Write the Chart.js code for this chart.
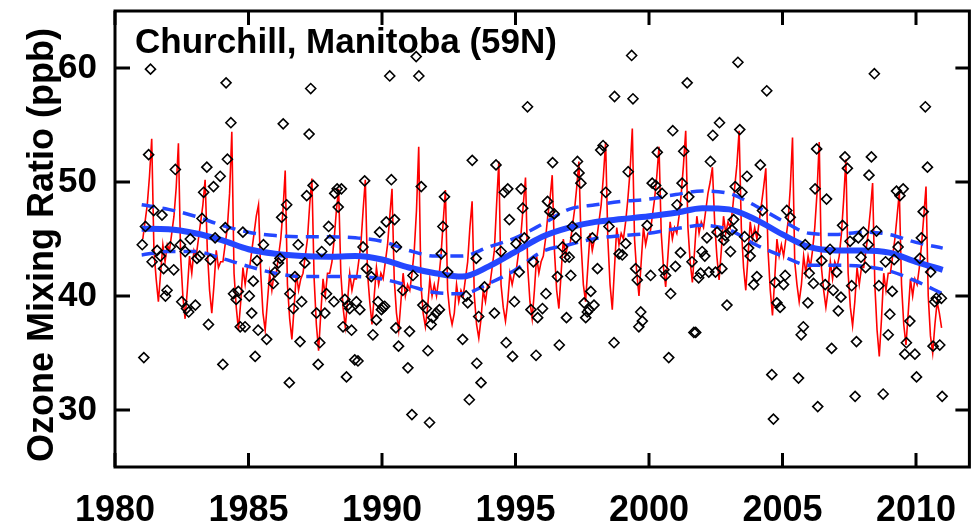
<!DOCTYPE html>
<html>
<head>
<meta charset="utf-8">
<script src="https://cdn.jsdelivr.net/npm/chart.js@4.4.1/dist/chart.umd.min.js"></script>
<style>
  html, body { margin: 0; padding: 0; background: #ffffff; }
  #wrap { width: 976px; height: 528px; }
</style>
</head>
<body>
<div id="wrap"><canvas id="c" width="976" height="528"></canvas></div>
<script>
// Surface ozone at Churchill, Manitoba: monthly means, seasonal model fit,
// long-term trend and its confidence band.
const stationTitle = 'Churchill, Manitoba (59N)';
const yAxisTitle = 'Ozone Mixing Ratio (ppb)';
const xTickValues = [1980, 1985, 1990, 1995, 2000, 2005, 2010];
const yTickValues = [30, 40, 50, 60];

// Monthly mean observations (decimal year, ppb)
const obsTime = [
  1981.33, 1981.08, 1981.02, 1981.14, 1981.26, 1981.45, 1981.76, 1981.39, 1981.58, 1981.70,
  1981.82, 1981.95, 1981.89, 1982.07, 1982.20, 1982.26, 1982.45, 1982.63, 1982.50, 1982.68,
  1982.76, 1983.01, 1982.82, 1983.07, 1983.17, 1983.26, 1983.32, 1983.44, 1983.69, 1983.94,
  1983.57, 1983.50, 1983.75, 1984.13, 1984.16, 1984.34, 1984.21, 1984.04, 1984.44, 1984.54,
  1984.62, 1984.69, 1984.87, 1984.79, 1985.03, 1985.12, 1985.18, 1985.25, 1985.36,
  1985.56, 1985.68, 1985.32, 1985.93, 1985.99, 1986.12, 1986.18, 1986.24, 1986.43, 1986.30,
  1986.55, 1986.68, 1986.74, 1986.93, 1986.86, 1986.99, 1986.53, 1987.11, 1987.18, 1987.27,
  1987.33, 1987.42, 1987.55, 1987.61, 1987.67, 1987.74, 1987.92, 1987.86, 1988.05, 1988.00,
  1988.23, 1988.32, 1988.36, 1988.20, 1988.48, 1988.54, 1988.61, 1988.73, 1988.67, 1988.79,
  1988.86, 1988.98, 1989.10, 1989.04, 1989.17, 1989.29, 1989.35, 1989.42, 1989.60, 1989.66,
  1989.79, 1989.85, 1989.91, 1989.98, 1990.04, 1990.10, 1990.16, 1990.29, 1990.35, 1990.47,
  1990.54, 1990.52, 1990.62,
  1990.78, 1991.16, 1991.28, 1991.38, 1991.47, 1990.97, 1991.03, 1991.12, 1991.78, 1991.53,
  1991.66, 1991.72, 1991.84, 1991.90, 1992.03, 1992.15, 1992.22, 1992.28, 1992.34, 1992.46,
  1993.02, 1993.15, 1993.21, 1993.27, 1993.38, 1993.53, 1993.55, 1993.62, 1993.71, 1993.84,
  1994.21, 1994.27, 1994.46, 1994.58, 1994.71, 1994.77, 1994.65, 1994.89, 1994.96, 1995.02,
  1995.14, 1995.21, 1995.27, 1995.33, 1995.45, 1995.58, 1995.67, 1995.77, 1995.83,
  1996.01, 1996.14, 1996.39, 1996.20, 1996.29, 1996.45, 1996.57, 1996.64, 1996.76, 1996.86,
  1996.91, 1997.01, 1997.07, 1997.13, 1997.26, 1997.32, 1997.38, 1997.45, 1997.57, 1997.63,
  1997.69, 1997.76, 1997.82, 1997.88, 1997.94, 1998.07, 1998.19, 1998.28, 1998.38, 1998.50,
  1998.69, 1998.71, 1998.88, 1999.00, 1999.13, 1999.22, 1999.35, 1999.40, 1999.50, 1999.56,
  1999.69, 1999.75, 1999.62, 1999.93, 2000.06, 2000.12, 2000.25, 2000.31, 2000.49, 2000.56,
  2000.62, 2000.74, 2000.81, 2000.89, 2000.99, 2001.05,
  2001.18, 2001.30, 2001.24, 2001.43, 2001.49, 2001.61, 2001.68, 2001.75, 2001.86, 2001.93,
  2001.99, 2002.09, 2002.17, 2002.24, 2002.30, 2002.39, 2002.49, 2002.55, 2002.64, 2002.73,
  2002.80, 2002.86, 2002.92, 2003.05, 2003.11, 2003.17, 2003.23, 2003.33, 2003.40, 2003.48,
  2003.58, 2003.67, 2003.73, 2003.79, 2003.92, 2004.04, 2004.00, 2004.17, 2004.25, 2004.41,
  2004.60, 2004.66, 2004.73, 2004.79, 2004.91, 2005.04, 2005.10, 2005.16, 2005.29, 2005.60,
  2005.70, 2005.78, 2005.85, 2005.95, 2006.00, 2006.16, 2006.22, 2006.28, 2006.32,
  2006.47, 2006.65, 2006.60, 2006.78, 2006.84, 2006.90, 2007.03, 2007.09, 2007.19, 2007.25,
  2007.34, 2007.43, 2007.53, 2007.59, 2007.77, 2007.72, 2007.84, 2007.94, 2008.03, 2008.11,
  2008.21, 2008.24, 2008.33, 2008.44, 2008.52, 2008.61, 2008.77, 2008.86, 2008.96, 2009.02,
  2009.11, 2009.18, 2009.27, 2009.33, 2009.40, 2009.52, 2009.58, 2009.64, 2009.77, 2009.96,
  2010.02, 2010.14, 2010.20, 2010.27, 2010.35, 2010.43, 2010.55, 2010.64, 2010.70, 2010.76,
  2010.89, 2010.95, 2010.98
];
const obsValue = [
  59.9, 34.6, 44.5, 46.1, 52.4, 47.5, 47.1, 43.0, 44.0, 43.5,
  42.4, 40.5, 40.0, 44.3, 42.3, 51.1, 44.5, 43.9, 39.5, 38.9,
  38.6, 39.2, 45.0, 43.3, 43.5, 46.8, 49.1, 51.3, 49.6, 50.5,
  43.2, 37.5, 45.1, 46.0, 58.7, 55.2, 52.0, 34.0, 40.2, 39.7,
  40.4, 37.3, 37.3, 45.6, 40.0, 38.5, 41.3, 34.7, 37.0,
  44.5, 36.2, 43.1, 41.1, 42.1, 42.9, 43.3, 46.9, 48.0, 55.1,
  40.2, 38.9, 41.7, 36.0, 44.5, 39.5, 32.4, 42.9, 48.8, 54.2,
  58.2, 49.7, 38.5, 34.0, 35.9, 43.9, 40.2, 38.5, 44.9, 46.1,
  49.0, 49.4, 47.8, 39.5, 49.4, 37.3, 39.7, 39.2, 32.9, 38.9,
  37.0, 34.4, 34.3, 39.5, 38.8, 44.3, 50.1, 42.4, 41.7, 36.6,
  37.9, 39.5, 45.6, 38.8, 39.0, 39.1, 46.5, 59.3, 50.2, 46.7,
  44.3, 37.2, 35.6,
  40.5, 41.8, 61.0, 59.3, 49.6, 33.7, 36.9, 29.6, 28.9, 39.2,
  38.9, 35.2, 37.5, 38.1, 38.5, 38.8, 43.7, 46.1, 48.7, 42.1,
  36.2, 40.0, 39.4, 30.9, 51.9, 43.3, 34.1, 38.2, 32.4, 40.8,
  38.5, 51.5, 43.9, 49.1, 49.4, 46.7, 35.9, 34.7, 39.5, 44.6,
  42.1, 49.4, 47.7, 45.1, 56.6, 38.8, 43.0, 34.8, 38.1,
  38.9, 40.2, 51.7, 48.3, 47.4, 47.2, 41.7, 35.7, 44.3, 43.4,
  38.1, 43.4, 41.8, 46.1, 45.1, 51.8, 50.8, 49.9, 39.4, 38.1,
  38.6, 38.8, 40.4, 45.1, 39.2, 42.4, 52.8, 53.2, 49.1, 46.1,
  35.9, 57.5, 43.7, 43.6, 44.6, 50.9, 61.1, 57.3, 42.4, 41.4,
  38.6, 37.8, 37.3, 46.2, 41.8, 49.9, 49.7, 52.6, 49.0, 42.3,
  41.8, 34.6, 40.2, 54.5, 42.6, 48.0,
  43.8, 52.7, 49.9, 58.7, 48.7, 43.0, 36.8, 36.8, 41.6, 42.0,
  43.9, 43.5, 45.1, 42.1, 51.8, 54.1, 42.1, 45.6, 55.2, 42.4,
  44.9, 45.3, 39.2, 43.9, 45.8, 46.7, 49.6, 60.5, 54.6, 49.1,
  45.2, 50.5, 44.2, 43.5, 41.0, 41.7, 45.2, 51.5, 47.5, 58.0,
  33.1, 29.2, 41.2, 39.4, 39.0, 41.0, 41.8, 47.5, 46.9, 32.8,
  36.6, 37.3, 44.5, 39.4, 42.0, 41.1, 49.4, 52.9, 30.3,
  43.1, 48.5, 41.0, 44.1, 35.4, 40.5, 42.1, 38.7, 39.9, 46.2,
  52.2, 51.2, 44.8, 40.9, 36.0, 31.2, 45.1, 43.4, 45.6, 42.5,
  44.5, 50.6, 52.2, 59.5, 45.7, 40.9, 31.4, 43.0, 36.6, 38.4,
  40.4, 43.2, 49.2, 44.3, 48.8, 49.4, 34.9, 35.9, 37.8, 34.9,
  32.9, 43.3, 45.1, 47.4, 56.6, 51.3, 42.1, 35.6, 39.5, 39.8,
  35.7, 39.8, 31.2
];

// Seasonal model fit, one row per year (Jan..Dec), starting 1981
const modelStartYear = 1981;
const modelMonthly = [
  [45.0, 46.5, 48.0, 50.5, 53.8, 44.0, 41.5, 39.5, 42.0, 44.5, 43.0, 44.5],
  [44.0, 45.5, 47.0, 49.5, 53.4, 43.5, 40.0, 38.0, 40.5, 43.5, 42.0, 44.0],
  [43.5, 45.0, 46.5, 48.0, 50.2, 44.0, 40.5, 38.5, 41.0, 44.0, 42.5, 43.0],
  [43.0, 44.5, 46.0, 49.0, 54.4, 42.0, 39.0, 37.0, 39.5, 42.5, 41.0, 42.5],
  [42.5, 44.0, 45.5, 47.0, 48.0, 42.0, 38.5, 37.0, 39.5, 42.0, 40.5, 42.0],
  [42.0, 43.5, 45.0, 47.5, 51.0, 41.0, 38.0, 36.2, 39.0, 42.0, 40.5, 41.5],
  [42.0, 43.5, 45.0, 48.0, 50.3, 41.5, 37.5, 35.2, 38.5, 41.5, 40.0, 42.0],
  [42.0, 43.0, 45.0, 47.5, 49.4, 42.0, 39.0, 37.3, 39.5, 42.0, 40.5, 41.5],
  [41.5, 43.0, 44.5, 47.5, 50.2, 42.0, 39.5, 37.5, 40.0, 42.5, 41.0, 42.0],
  [41.5, 43.0, 44.5, 47.0, 49.4, 41.5, 38.5, 37.0, 39.5, 42.0, 40.0, 41.0],
  [40.5, 42.0, 44.0, 47.5, 53.1, 41.0, 38.5, 37.3, 39.0, 41.5, 40.0, 41.0],
  [40.0, 41.5, 43.5, 46.5, 49.3, 40.5, 38.5, 37.5, 38.5, 41.0, 39.5, 40.5],
  [40.0, 41.5, 43.0, 46.0, 48.3, 40.0, 37.5, 36.3, 38.0, 40.5, 39.5, 41.0],
  [41.0, 42.5, 44.0, 48.0, 51.8, 41.0, 39.0, 37.8, 39.5, 42.0, 41.0, 42.0],
  [42.5, 44.0, 45.5, 48.0, 50.4, 42.5, 39.5, 38.0, 40.5, 43.5, 42.0, 43.0],
  [43.5, 45.0, 47.0, 48.5, 50.6, 44.0, 40.5, 38.9, 42.0, 45.0, 43.5, 44.5],
  [44.5, 46.0, 47.5, 49.5, 51.8, 44.5, 41.0, 39.5, 42.5, 45.5, 44.0, 45.0],
  [45.0, 46.5, 48.0, 50.5, 53.5, 45.0, 41.0, 38.8, 42.5, 46.0, 44.5, 45.5],
  [45.0, 46.5, 48.5, 51.0, 54.7, 45.0, 42.0, 40.0, 43.0, 46.0, 44.5, 45.5],
  [45.5, 47.0, 48.5, 50.5, 53.1, 45.5, 42.5, 40.8, 43.5, 46.5, 45.0, 46.0],
  [45.5, 47.0, 49.0, 51.5, 54.5, 46.0, 43.0, 41.2, 44.0, 47.0, 45.5, 46.5],
  [46.0, 47.5, 49.0, 50.0, 51.3, 46.5, 43.5, 41.4, 44.0, 47.0, 45.5, 46.5],
  [46.0, 47.5, 49.5, 51.5, 54.5, 46.0, 42.5, 40.5, 43.5, 46.5, 45.0, 46.0],
  [45.0, 46.5, 48.0, 49.5, 51.2, 44.0, 40.5, 38.3, 41.5, 45.0, 43.5, 44.5],
  [43.5, 45.0, 46.5, 49.5, 53.9, 43.0, 41.0, 39.5, 41.0, 43.5, 42.0, 43.5],
  [42.5, 44.0, 46.0, 49.0, 53.5, 42.5, 40.5, 39.0, 40.5, 43.0, 41.5, 43.0],
  [42.5, 43.5, 45.5, 48.5, 52.0, 42.0, 39.0, 37.4, 39.5, 42.5, 41.0, 42.5],
  [42.5, 44.0, 45.5, 47.5, 49.9, 41.0, 37.0, 34.7, 38.0, 42.0, 40.5, 42.0],
  [42.0, 43.5, 45.0, 47.0, 49.1, 41.0, 37.5, 35.7, 38.5, 41.5, 40.0, 41.5],
  [41.0, 42.5, 44.5, 47.0, 49.6, 40.0, 36.5, 35.0, 37.5, 39.5, 38.5, 37.2]
];

// Long-term trend and its upper / lower confidence limits
const trendTime = [
  1981, 1982, 1983, 1984, 1985, 1986, 1987, 1988, 1989, 1990, 1991,
  1992, 1993, 1994, 1995, 1996, 1997, 1998, 1999, 2000, 2001,
  2002, 2003, 2004, 2005, 2006, 2007, 2008, 2009, 2010, 2011
];
const trendValue = [
  45.9, 45.85, 45.5, 44.9, 44.1, 43.7, 43.5, 43.45, 43.5, 43.2, 42.5,
  42.0, 41.7, 42.6, 43.9, 45.2, 46.0, 46.5, 46.75, 47.0, 47.3,
  47.7, 47.6, 46.7, 45.4, 44.3, 44.0, 44.0, 43.8, 43.0, 42.3
];
const trendUpper = [
  48.0, 47.6, 47.0, 46.2, 45.6, 45.3, 45.2, 45.2, 45.1, 44.8, 44.0,
  43.5, 43.5, 44.3, 45.1, 46.3, 47.6, 48.0, 48.3, 48.5, 48.9,
  49.2, 49.0, 47.9, 46.6, 45.5, 45.4, 45.6, 45.4, 44.7, 44.2
];
const trendLower = [
  43.6, 43.9, 43.9, 43.3, 42.6, 42.0, 41.7, 41.7, 41.7, 41.5, 40.9,
  40.3, 40.2, 41.1, 42.3, 43.9, 44.5, 45.05, 45.3, 45.5, 45.9,
  46.2, 45.8, 44.5, 43.5, 42.7, 42.7, 42.6, 42.2, 41.3, 40.2
];

const FONT = "'Liberation Sans', Arial, Helvetica, sans-serif";
const BLUE = '#2447ff';

const obsPoints = obsTime.map((t, i) => ({ x: t, y: obsValue[i] }));
const modelPoints = [];
modelMonthly.forEach((row, yi) => {
  row.forEach((v, m) => modelPoints.push({ x: modelStartYear + yi + (m + 0.5) / 12, y: v }));
});
const toPoints = vals => trendTime.map((t, i) => ({ x: t, y: vals[i] }));

// Keep the plot box fixed: no extra room reserved for label overhang
function fixScale(size, key) {
  return s => {
    s[key] = size;
    s.paddingTop = 0; s.paddingBottom = 0;
    s.paddingLeft = 0; s.paddingRight = 0;
  };
}

// Box frame, inward tick marks, station label and vertical axis title
const framePlugin = {
  id: 'frame',
  afterDraw(chart) {
    const { ctx, chartArea: a, scales: { x, y } } = chart;
    ctx.save();
    ctx.strokeStyle = '#000';
    ctx.lineWidth = 3;
    ctx.strokeRect(a.left, a.top, a.right - a.left, a.bottom - a.top);
    ctx.beginPath();
    xTickValues.forEach(v => {
      const px = x.getPixelForValue(v);
      ctx.moveTo(px, a.bottom); ctx.lineTo(px, a.bottom - 14);
      ctx.moveTo(px, a.top); ctx.lineTo(px, a.top + 14);
    });
    yTickValues.forEach(v => {
      const py = y.getPixelForValue(v);
      ctx.moveTo(a.left, py); ctx.lineTo(a.left + 15, py);
      ctx.moveTo(a.right, py); ctx.lineTo(a.right - 14, py);
    });
    ctx.stroke();

    ctx.fillStyle = '#000';
    ctx.font = 'bold 35px ' + FONT;
    ctx.textAlign = 'left';
    ctx.textBaseline = 'alphabetic';
    ctx.fillText(stationTitle, a.left + 20, 53);

    ctx.translate(43, 245);
    ctx.rotate(-Math.PI / 2);
    ctx.textAlign = 'center';
    ctx.textBaseline = 'middle';
    ctx.font = 'bold 36px ' + FONT;
    ctx.fillText(yAxisTitle, 0, 0);
    ctx.restore();
  }
};

new Chart(document.getElementById('c'), {
  type: 'scatter',
  data: {
    datasets: [
      {
        label: 'Monthly mean',
        data: obsPoints,
        pointStyle: 'rectRot',
        pointRadius: 5,
        pointBorderWidth: 1.6,
        pointBorderColor: '#000',
        pointBackgroundColor: 'rgba(0,0,0,0)',
        showLine: false
      },
      {
        label: 'Upper limit',
        data: toPoints(trendUpper),
        showLine: true,
        borderColor: BLUE,
        borderWidth: 3.5,
        borderDash: [13, 8],
        pointRadius: 0,
        cubicInterpolationMode: 'monotone',
        fill: false
      },
      {
        label: 'Lower limit',
        data: toPoints(trendLower),
        showLine: true,
        borderColor: BLUE,
        borderWidth: 3.5,
        borderDash: [13, 8],
        pointRadius: 0,
        cubicInterpolationMode: 'monotone',
        fill: false
      },
      {
        label: 'Trend',
        data: toPoints(trendValue),
        showLine: true,
        borderColor: BLUE,
        borderWidth: 6,
        pointRadius: 0,
        cubicInterpolationMode: 'monotone',
        fill: false
      },
      {
        label: 'Model',
        data: modelPoints,
        showLine: true,
        borderColor: '#ff0000',
        borderWidth: 1.6,
        pointRadius: 0,
        tension: 0,
        fill: false
      }
    ]
  },
  options: {
    responsive: false,
    animation: false,
    devicePixelRatio: 1,
    layout: { padding: { top: 11, right: 4, left: 0, bottom: 0 } },
    plugins: { legend: { display: false }, tooltip: { enabled: false }, title: { display: false } },
    scales: {
      x: {
        type: 'linear',
        min: 1980,
        max: 2012,
        afterBuildTicks: s => { s.ticks = xTickValues.map(v => ({ value: v })); },
        afterFit: fixScale(61, 'height'),
        grid: { display: false, drawTicks: false },
        border: { display: false },
        ticks: { color: '#000', padding: 22, maxRotation: 0, autoSkip: false,
                 callback: v => String(v),
                 font: { family: FONT, size: 36, weight: 'bold' } }
      },
      y: {
        type: 'linear',
        min: 25,
        max: 65,
        afterBuildTicks: s => { s.ticks = yTickValues.map(v => ({ value: v })); },
        afterFit: fixScale(115, 'width'),
        grid: { display: false, drawTicks: false },
        border: { display: false },
        ticks: { color: '#000', padding: 18, callback: v => String(v),
                 font: { family: FONT, size: 35, weight: 'bold' } }
      }
    }
  },
  plugins: [framePlugin]
});
</script>
</body>
</html>
